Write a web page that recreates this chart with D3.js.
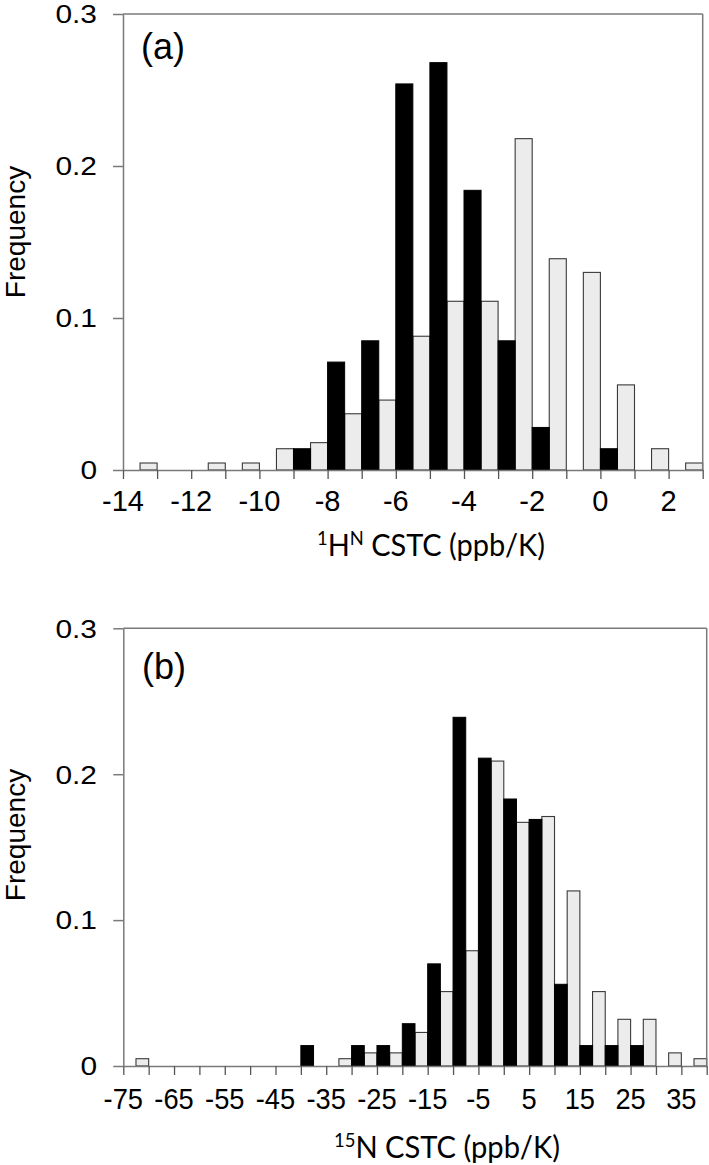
<!DOCTYPE html>
<html>
<head>
<meta charset="utf-8">
<script src="https://cdn.jsdelivr.net/npm/d3@7"></script>
<style>
html,body{margin:0;padding:0;background:#fff;}
svg{display:block;}
</style>
</head>
<body>
<svg id="chart" width="709" height="1165"></svg>
<script>
// ---- Data ----
// Panel (a): 1H^N CSTC bins (ppb/K), bin width 1
const aBins = [-14,-13,-12,-11,-10,-9,-8,-7,-6,-5,-4,-3,-2,-1,0,1,2];
const aBlack = [0,0,0,0,0,0.014,0.071,0.085,0.254,0.268,0.184,0.085,0.028,0,0.014,0,0];
const aGray  = [0.0046,0,0.0046,0.0046,0.014,0.018,0.037,0.046,0.088,0.111,0.111,0.218,0.139,0.130,0.056,0.014,0.0046];
const aTickLabels = [-14,-12,-10,-8,-6,-4,-2,0,2];

// Panel (b): 15N CSTC bins (ppb/K), bin width 5
const bBins = [-75,-70,-65,-60,-55,-50,-45,-40,-35,-30,-25,-20,-15,-10,-5,0,5,10,15,20,25,30,35];
const bBlack = [0,0,0,0,0,0,0,0.014,0,0.014,0.014,0.029,0.070,0.239,0.211,0.183,0.169,0.056,0.014,0.014,0.014,0,0];
const bGray  = [0.005,0,0,0,0,0,0,0,0.005,0.009,0.009,0.023,0.051,0.079,0.209,0.167,0.171,0.120,0.051,0.032,0.032,0.009,0.005];
const bTickLabels = [-75,-65,-55,-45,-35,-25,-15,-5,5,15,25,35];

const yTicks = [0,0.1,0.2,0.3];
const yTickLabels = ["0","0.1","0.2","0.3"];

const svg = d3.select("#chart");
const AXIS = "#7a7a7a";
const FONT = "'Liberation Sans', Arial, Helvetica, sans-serif";

function panel(cfg){
  const g = svg.append("g");
  const x = d3.scaleLinear().domain(cfg.xDomain).range([cfg.left, cfg.right]);
  const y = d3.scaleLinear().domain([0,0.3]).range([cfg.bottom, cfg.top]);
  const w = cfg.binWidth;

  // bars
  const data = cfg.bins.map((b,i)=>({b, k:cfg.black[i], gr:cfg.gray[i]}));
  g.selectAll("rect.gray").data(data.filter(d=>d.gr>0)).join("rect")
    .attr("x", d=>x(d.b + w/2))
    .attr("width", d=>x(d.b + w) - x(d.b + w/2))
    .attr("y", d=>y(d.gr))
    .attr("height", d=>y(0)-y(d.gr))
    .attr("fill","#ececec").attr("stroke","#3a3a3a").attr("stroke-width",1.1);
  g.selectAll("rect.black").data(data.filter(d=>d.k>0)).join("rect")
    .attr("x", d=>x(d.b))
    .attr("width", d=>x(d.b + w/2) - x(d.b))
    .attr("y", d=>y(d.k))
    .attr("height", d=>y(0)-y(d.k))
    .attr("fill","#000").attr("stroke","#000").attr("stroke-width",1);

  // frame: top and right
  g.append("line").attr("x1",cfg.left).attr("x2",cfg.right).attr("y1",y(0.3)).attr("y2",y(0.3))
    .attr("stroke",AXIS).attr("stroke-width",1.5);
  g.append("line").attr("x1",cfg.right).attr("x2",cfg.right).attr("y1",y(0.3)).attr("y2",y(0))
    .attr("stroke",AXIS).attr("stroke-width",1.5);

  // x axis
  const xTickVals = d3.range(cfg.xDomain[0], cfg.xDomain[1] + w/2, w);
  const xa = d3.axisBottom(x).tickValues(xTickVals).tickSize(9).tickSizeOuter(0).tickFormat("");
  const gx = g.append("g").attr("transform",`translate(0,${y(0)})`).call(xa);
  gx.select(".domain").attr("stroke",AXIS).attr("stroke-width",1.5);
  gx.selectAll(".tick line").attr("stroke","#555").attr("stroke-width",1.3);
  g.selectAll("text.xl").data(cfg.xLabels).join("text")
    .attr("x", d=>x(d)).attr("y", y(0) + cfg.xLabelDy)
    .attr("text-anchor","middle")
    .attr("font-family",FONT).attr("font-size",cfg.xLabelSize).attr("fill","#000")
    .attr("transform", d=>`translate(${x(d)},0) scale(${cfg.xLabelScale},1) translate(${-x(d)},0)`)
    .text(d=>d);

  // y axis
  const ya = d3.axisLeft(y).tickValues(yTicks).tickSize(10).tickSizeOuter(0).tickFormat("");
  const gy = g.append("g").attr("transform",`translate(${cfg.left},0)`).call(ya);
  gy.select(".domain").attr("stroke",AXIS).attr("stroke-width",1.5);
  gy.selectAll(".tick line").attr("stroke",AXIS).attr("stroke-width",1.5);
  g.selectAll("text.yl").data(yTicks).join("text")
    .attr("text-anchor","end")
    .attr("font-family",FONT).attr("font-size",26).attr("fill","#000")
    .attr("transform", d=>`translate(97,${y(d)+9.3}) scale(1.15,1)`)
    .text((d,i)=>yTickLabels[i]);

  // y title
  g.append("text")
    .attr("transform",`translate(25,${cfg.yTitleY}) rotate(-90)`)
    .attr("text-anchor","middle")
    .attr("font-family",FONT).attr("font-size",28).attr("fill","#000")
    .text("Frequency");

  // panel label
  g.append("text").attr("x",cfg.labelX).attr("y",cfg.labelY)
    .attr("font-family",FONT).attr("font-size",36).attr("fill","#000")
    .text(cfg.label);

  // x title
  const t = g.append("text").attr("x",cfg.titleX).attr("y",cfg.titleY)
    .attr("font-family","Lato, 'Open Sans', sans-serif").attr("font-size",30).attr("fill","#000")
    .attr("textLength",cfg.titleLen).attr("lengthAdjust","spacingAndGlyphs");
  cfg.title.forEach(p=>{
    const s = t.append("tspan").text(p.t);
    if(p.sup){ s.attr("font-size",19).attr("dy",-11); }
    else if(p.after){ s.attr("dy",11); }
  });
}

panel({
  left:123, right:702.7, top:14, bottom:470,
  xDomain:[-14,3], binWidth:1,
  bins:aBins, black:aBlack, gray:aGray,
  xLabels:aTickLabels, xLabelDy:41, xLabelSize:29, xLabelScale:1,
  yTitleY:232, label:"(a)", labelX:141, labelY:59,
  titleX:317, titleY:556, titleLen:228,
  title:[{t:"1",sup:true},{t:"H",after:true},{t:"N",sup:true},{t:" CSTC (ppb/K)",after:true}]
});

panel({
  left:123.3, right:706.7, top:628.3, bottom:1066,
  xDomain:[-75,40], binWidth:5,
  bins:bBins, black:bBlack, gray:bGray,
  xLabels:bTickLabels, xLabelDy:43, xLabelSize:29, xLabelScale:0.94,
  yTitleY:835, label:"(b)", labelX:142, labelY:679,
  titleX:334, titleY:1158, titleLen:226,
  title:[{t:"15",sup:true},{t:"N CSTC (ppb/K)",after:true}]
});
</script>
</body>
</html>
